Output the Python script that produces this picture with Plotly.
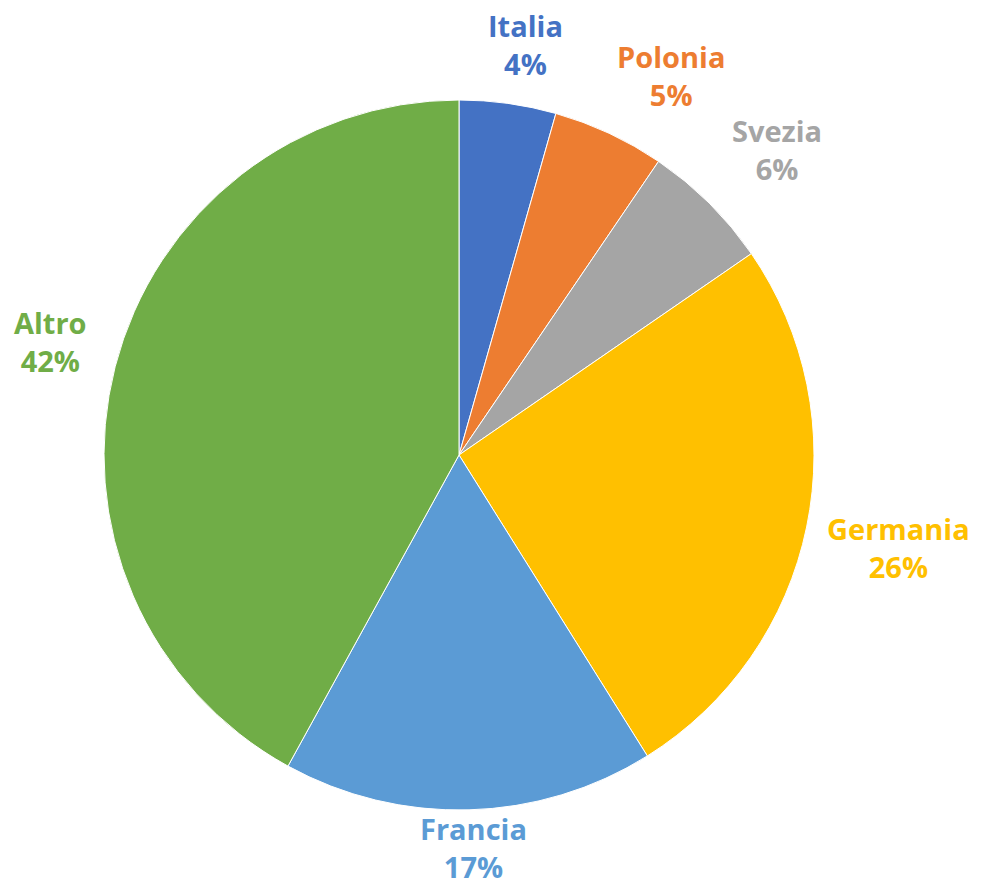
import math
import plotly.graph_objects as go

countries = ["Italia", "Polonia", "Svezia", "Germania", "Francia", "Altro"]
shares = [4.4, 5.1, 5.9, 25.7, 16.9, 42.0]
colors = ["#4472C4", "#ED7D31", "#A5A5A5", "#FFC000", "#5B9BD5", "#70AD47"]

W, H = 982, 885
CX, CY, R = 459, 455, 355          # pie centre / radius in pixels
FONT = 29
GAP = 20

dom_x = [(CX - R) / W, (CX + R) / W]
dom_y = [1 - (CY + R) / H, 1 - (CY - R) / H]

fig = go.Figure(go.Pie(
    labels=countries,
    values=shares,
    sort=False,
    direction="clockwise",
    rotation=0,
    marker=dict(colors=colors, line=dict(color="white", width=1)),
    textinfo="none",
    automargin=False,
    showlegend=False,
    hoverinfo="label+percent",
    domain=dict(x=dom_x, y=dom_y),
))

total = sum(shares)
cum = 0.0
annotations = []
clamp = lambda t: max(-1.0, min(1.0, t))
for name, v, c in zip(countries, shares, colors):
    mid = (cum + v / 2) / total * 2 * math.pi
    cum += v
    s, co = math.sin(mid), math.cos(mid)
    px = CX + (R + GAP) * s
    py = CY - (R + GAP) * co
    w = len(name) * 18
    h = 80
    px += clamp(2 * s) * w / 2
    py -= clamp(2 * co) * h / 2
    py = max(h / 2 + 4, min(H - h / 2 + 2, py))
    pct = round(v / total * 100)
    annotations.append(dict(
        x=px / W, y=1 - py / H, xref="paper", yref="paper",
        xanchor="center", yanchor="middle", showarrow=False,
        text=f"<b>{name}<br>{pct}%</b>",
        font=dict(color=c, size=FONT, family="Open Sans"),
    ))

fig.update_layout(
    width=W, height=H,
    margin=dict(l=0, r=0, t=0, b=0),
    paper_bgcolor="white",
    plot_bgcolor="white",
    annotations=annotations,
)

fig.write_html("out.html", config={"displayModeBar": False},
               post_script="document.body.style.margin='0px';")
